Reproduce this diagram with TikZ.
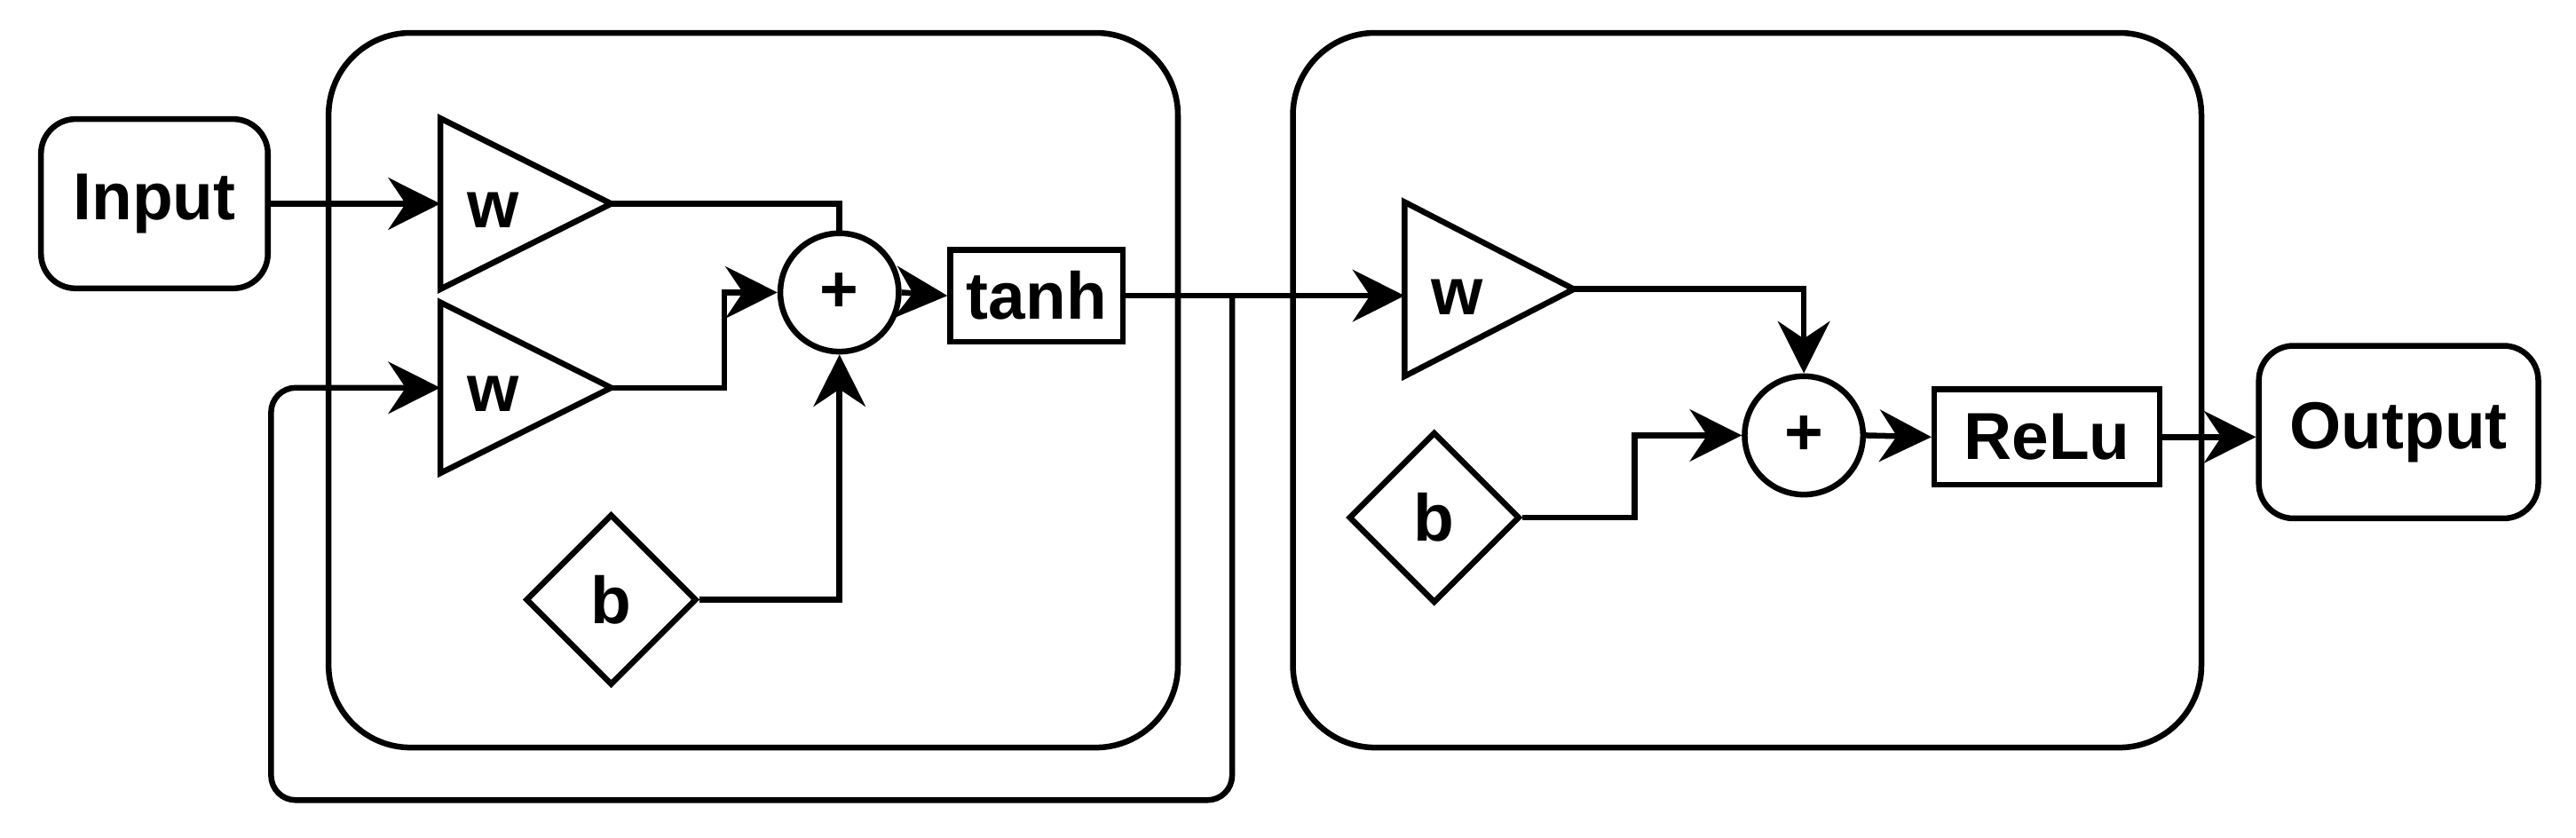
\documentclass[tikz,border=0pt]{standalone}
\usepackage{fontspec}
\setmainfont{Liberation Sans}
\usetikzlibrary{shapes.geometric,arrows.meta}
\begin{document}
\begin{tikzpicture}[x=0.01cm,y=-0.01cm,
  every path/.style={line width=1pt},
  ar/.style={-{Stealth[length=9pt,width=9pt,inset=3pt]}},
  lbl/.style={font=\fontsize{11.5}{14}\selectfont\bfseries},
  rbox/.style={draw,rounded corners=6pt,minimum width=#1,inner sep=0pt,lbl},
  dia/.style={draw,diamond,minimum width=1.04cm,minimum height=1.04cm,inner sep=0pt,lbl},
  sum/.style={draw,circle,minimum size=0.72cm,inner sep=0pt,lbl}]
\useasboundingbox (0,0) rectangle (1568,509.6);
\draw[rounded corners=0.5cm] (200,20) rectangle (717,455);
\draw[rounded corners=0.5cm] (787,20) rectangle (1340,455);
\node[rbox=1.38cm,minimum height=1.03cm] (in) at (94,124) {Input};
% triangles
\coordinate (w1in) at (268,124); \coordinate (w1) at (372,124);
\draw (268,72) -- (w1) -- (268,176) -- cycle;
\node[lbl,anchor=west] (w1l) at (271,128) {w};
\coordinate (w2in) at (268,236); \coordinate (w2) at (372,236);
\draw (268,184) -- (w2) -- (268,288) -- cycle;
\node[lbl,anchor=west] (w2l) at (271,240) {w};
\coordinate (w3in) at (855,180); \coordinate (w3) at (958,176);
\draw (855,123) -- (w3) -- (855,229) -- cycle;
\node[lbl,anchor=west] (w3l) at (858,181) {w};
\node[sum] (s1) at (511,178) {+};
\node[draw,lbl,minimum width=1.05cm,minimum height=0.56cm,inner sep=0pt] (th) at (631,180) {tanh};
\node[dia] (b1) at (372,365) {b};
\node[sum] (s2) at (1098,265) {+};
\node[dia] (b2) at (873,315) {b};
\node[draw,lbl,minimum width=1.37cm,minimum height=0.58cm,inner sep=0pt] (re) at (1246,266) {ReLu};
\node[rbox=1.7cm,minimum height=1.05cm] (out) at (1460,263) {Output};
\coordinate (fb) at (750,180);
\draw[ar] (in.east) -- (w1in);
\draw (w1) -| (s1.north);
\draw[ar] (w2) -- (441,236) |- (s1.west);
\draw[ar] (b1.east) -| (s1.south);
\draw[ar] (s1.east) -- (th.west);
\draw[ar] (th.east) -- (w3in);
\draw[ar,rounded corners=0.15cm] (fb) -- (750,487) -- (165,487) |- (w2in);
\draw[ar] (w3) -| (s2.north);
\draw[ar] (b2.east) -- (995,315) |- (s2.west);
\draw[ar] (s2.east) -- (re.west);
\draw[ar] (re.east) -- (re.east -| out.west);
\end{tikzpicture}
\end{document}
